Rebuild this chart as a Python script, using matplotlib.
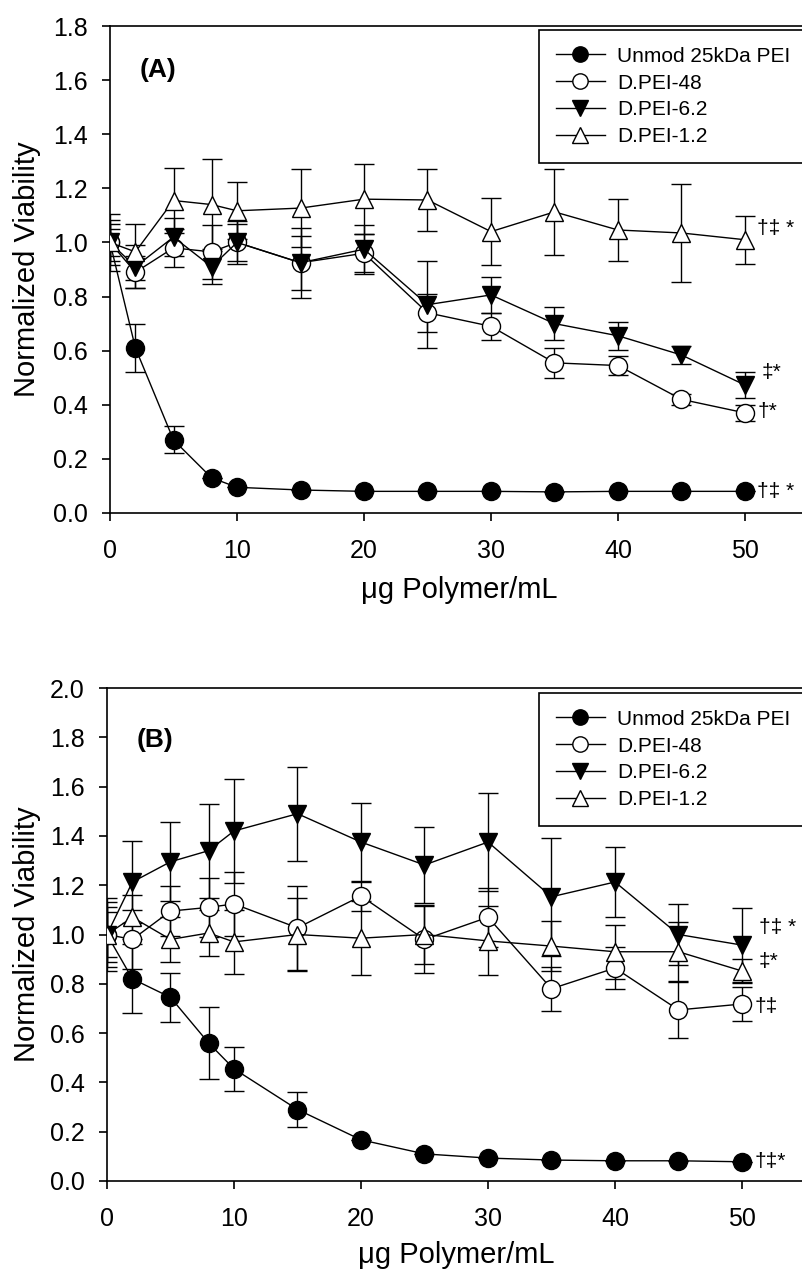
import matplotlib
matplotlib.use("Agg")
import matplotlib.pyplot as plt

plt.rcParams["font.family"] = ["Liberation Sans", "DejaVu Sans"]

# concentrations (ug polymer / mL)
conc = [0, 2, 5, 8, 10, 15, 20, 25, 30, 35, 40, 45, 50]

labels = ["Unmod 25kDa PEI", "D.PEI-48", "D.PEI-6.2", "D.PEI-1.2"]

# panel A
a_unmod = [1.0, 0.61, 0.27, 0.13, 0.095, 0.085, 0.08, 0.08, 0.08, 0.078, 0.08, 0.08, 0.08]
a_unmod_err = [0.05, 0.09, 0.05, 0.0, 0.0, 0.0, 0.0, 0.0, 0.0, 0.0, 0.0, 0.0, 0.0]
a_48 = [1.0, 0.89, 0.98, 0.965, 1.0, 0.925, 0.96, 0.74, 0.69, 0.555, 0.545, 0.42, 0.37]
a_48_err = [0.07, 0.06, 0.07, 0.10, 0.08, 0.13, 0.07, 0.07, 0.05, 0.055, 0.035, 0.02, 0.03]
a_62 = [1.0, 0.91, 1.02, 0.91, 1.0, 0.925, 0.975, 0.77, 0.806, 0.70, 0.655, 0.584, 0.473]
a_62_err = [0.083, 0.08, 0.07, 0.065, 0.07, 0.10, 0.09, 0.16, 0.065, 0.06, 0.052, 0.033, 0.047]
a_12 = [1.0, 0.965, 1.155, 1.14, 1.117, 1.127, 1.16, 1.157, 1.04, 1.113, 1.046, 1.035, 1.01]
a_12_err = [0.105, 0.105, 0.12, 0.17, 0.105, 0.145, 0.13, 0.115, 0.125, 0.16, 0.113, 0.18, 0.088]

# panel B
b_unmod = [1.0, 0.82, 0.745, 0.56, 0.455, 0.29, 0.167, 0.11, 0.093, 0.085, 0.082, 0.082, 0.078]
b_unmod_err = [0.09, 0.14, 0.10, 0.146, 0.09, 0.07, 0.0, 0.0, 0.0, 0.0, 0.0, 0.0, 0.0]
b_48 = [1.0, 0.98, 1.095, 1.11, 1.124, 1.027, 1.156, 0.98, 1.07, 0.78, 0.864, 0.694, 0.718]
b_48_err = [0.11, 0.12, 0.10, 0.12, 0.13, 0.17, 0.06, 0.135, 0.12, 0.09, 0.085, 0.115, 0.07]
b_62 = [1.0, 1.213, 1.295, 1.34, 1.42, 1.49, 1.375, 1.282, 1.375, 1.153, 1.213, 1.0, 0.957]
b_62_err = [0.13, 0.165, 0.16, 0.19, 0.21, 0.19, 0.16, 0.155, 0.20, 0.24, 0.14, 0.125, 0.15]
b_12 = [1.0, 1.07, 0.98, 1.006, 0.97, 1.0, 0.985, 1.0, 0.974, 0.953, 0.93, 0.93, 0.852]
b_12_err = [0.15, 0.09, 0.09, 0.095, 0.13, 0.15, 0.15, 0.12, 0.14, 0.10, 0.11, 0.12, 0.05]

# significance marks next to the last point: (text, x offset pt, y offset pt)
a_marks = [("\u2020\u2021 *", 9, 0), ("\u2020*", 9, 1), ("\u2021*", 12, 9), ("\u2020\u2021 *", 9, 8)]
b_marks = [("\u2020\u2021*", 9, 0), ("\u2020\u2021", 9, -2), ("\u2020\u2021 *", 12, 13), ("\u2021*", 12, 7)]

styles = [
    dict(marker="o", mfc="black"),
    dict(marker="o", mfc="white"),
    dict(marker="v", mfc="black"),
    dict(marker="^", mfc="white"),
]

W, H = 802, 1269
fig = plt.figure(figsize=(W / 100, H / 100), dpi=100)


def px_axes(left, top, right, bottom):
    return fig.add_axes([left / W, 1 - bottom / H, (right - left) / W, (bottom - top) / H])


def draw_panel(ax, series, marks, ymax, tag, tag_y, leg_top, xlab_y, ylab_x):
    for (y, err), st, lab, mk in zip(series, styles, labels, marks):
        ax.errorbar(conc, y, yerr=err, fmt="none", ecolor="black", elinewidth=1.0,
                    capsize=7, capthick=1.0, zorder=2)
        ax.plot(conc, y, color="black", lw=1.0, marker=st["marker"], mfc=st["mfc"],
                mec="black", mew=1.0, ms=13, label=lab, zorder=3)
        ax.annotate(mk[0], xy=(conc[-1], y[-1]), xytext=(mk[1], mk[2]),
                    textcoords="offset points", ha="left", va="center", fontsize=15)

    ax.set_xlim(0, 55)
    ax.set_ylim(0, ymax)
    ax.set_xticks(range(0, 51, 10))
    yt = [round(0.2 * i, 1) for i in range(int(round(ymax / 0.2)) + 1)]
    ax.set_yticks(yt)
    ax.set_yticklabels([f"{v:.1f}" for v in yt])
    ax.tick_params(direction="out", length=6, width=1.2, labelsize=18)
    ax.tick_params(axis="x", pad=13)
    ax.tick_params(axis="y", pad=10)
    ax.spines["right"].set_visible(False)
    for s in ["left", "bottom", "top"]:
        ax.spines[s].set_linewidth(1.2)

    ax.set_xlabel("\u03bcg Polymer/mL", fontsize=21, va="center")
    ax.xaxis.set_label_coords(0.5, xlab_y)
    ax.set_ylabel("Normalized Viability", fontsize=21, va="center")
    ax.yaxis.set_label_coords(ylab_x, 0.5)

    ax.text(0.043, tag_y, tag, transform=ax.transAxes, fontsize=19, fontweight="bold",
            ha="left", va="center")

    leg = ax.legend(loc="upper left", bbox_to_anchor=(539 / W, 1 - leg_top / H),
                    bbox_transform=fig.transFigure, borderaxespad=0, fontsize=15,
                    frameon=True, fancybox=False, edgecolor="black", framealpha=1,
                    handlelength=2.35, handletextpad=0.6, labelspacing=0.38,
                    borderpad=0.8, markerscale=0.85)
    leg.get_frame().set_linewidth(1.2)


ax_a = px_axes(110, 26, 808.5, 513)
draw_panel(ax_a, [(a_unmod, a_unmod_err), (a_48, a_48_err), (a_62, a_62_err), (a_12, a_12_err)],
           a_marks, 1.8, "(A)", 0.91, 30, -0.158, -0.119)

ax_b = px_axes(107, 688, 805.5, 1181)
draw_panel(ax_b, [(b_unmod, b_unmod_err), (b_48, b_48_err), (b_62, b_62_err), (b_12, b_12_err)],
           b_marks, 2.0, "(B)", 0.894, 693, -0.150, -0.1145)

fig.savefig("out.png", dpi=100)
